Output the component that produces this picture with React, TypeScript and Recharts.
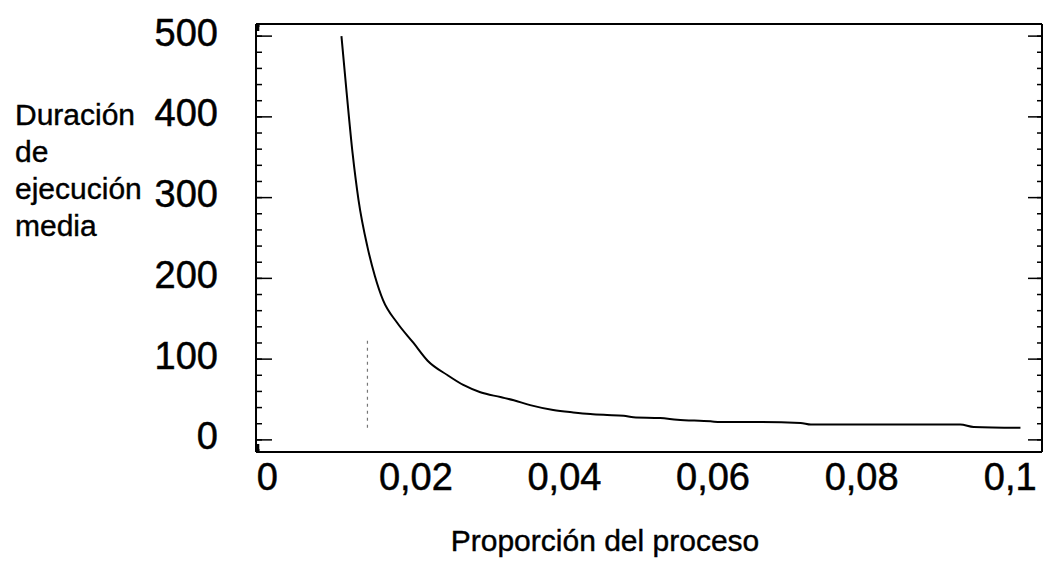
import React from "react";
import { LineChart, Line, XAxis, YAxis, ReferenceLine } from "recharts";

// proportion of the process (x) vs mean run time (y)
const proportion = [
  0.0085, 0.0092, 0.01, 0.0108, 0.012, 0.013, 0.0141, 0.016, 0.0182, 0.0201,
  0.0228, 0.0249, 0.0272, 0.0299, 0.0317, 0.0339, 0.037, 0.0397, 0.042, 0.0438,
  0.0465, 0.0478, 0.0514, 0.0537, 0.0582, 0.0595, 0.0649, 0.0703, 0.0717, 0.0918,
  0.0936, 0.0999,
];
const duration = [
  500, 430, 355, 297, 239, 203, 173, 145, 120, 98,
  80, 68, 59, 53, 49, 43, 37, 34, 32, 31,
  30, 28, 27, 25, 23, 22, 22, 21, 19, 19,
  16, 15,
];

const xMajor = [0, 0.02, 0.04, 0.06, 0.08, 0.1];
const xMinor = [
  0, 0.005, 0.01, 0.015, 0.02, 0.025, 0.03, 0.035, 0.04, 0.045, 0.05,
  0.055, 0.06, 0.065, 0.07, 0.075, 0.08, 0.085, 0.09, 0.095, 0.1,
];
const yMajor = [0, 100, 200, 300, 400, 500];
const yMinor = [
  0, 20, 40, 60, 80, 100, 120, 140, 160, 180, 200, 220, 240, 260, 280, 300,
  320, 340, 360, 380, 400, 420, 440, 460, 480, 500,
];

// faint dotted mark in the original scan
const markX = 0.012;
const markFrom = 15;
const markTo = 125;

const xDomain = [-0.003, 0.1028];
const yDomain = [-15, 515];

const data = proportion.map((p, i) => ({ p, d: duration[i] }));

const font = '"Liberation Sans", Arial, sans-serif';
const fmtX = (v: number) => String(v).replace(".", ",");
const blank = () => "";
const thin = 0.01; // axes take no room, but still get drawn

export default function App() {
  const tickBase = { fontSize: 38, fill: "#000", stroke: "#000", strokeWidth: 0.5, fontFamily: font };
  const noText = { fontSize: 1, fill: "none" };
  const tl = { stroke: "#000", strokeWidth: 1.5 };
  const frame = { stroke: "#000", strokeWidth: 2 };
  return (
    <div style={{ position: "absolute", left: 0, top: 0, width: 1052, height: 568, background: "#fff", fontFamily: font }}>
      <LineChart width={1052} height={568} data={data} margin={{ top: 24, right: 10, left: 256, bottom: 116 }}>
        <XAxis xAxisId="x" dataKey="p" type="number" domain={xDomain} allowDataOverflow ticks={xMajor}
          interval={0} height={thin} tickSize={0} tickMargin={11} tickLine={false}
          tickFormatter={fmtX} tick={{ ...tickBase, dx: -11 }} axisLine={frame} />
        <XAxis xAxisId="xb1" type="number" domain={xDomain} allowDataOverflow ticks={xMajor} interval={0}
          height={thin} mirror tick={noText} tickFormatter={blank} tickSize={8} axisLine={false} tickLine={tl} />
        <XAxis xAxisId="xb2" type="number" domain={xDomain} allowDataOverflow ticks={xMinor} interval={0}
          height={thin} mirror tick={noText} tickFormatter={blank} tickSize={3} axisLine={false} tickLine={tl} />
        <XAxis xAxisId="xt1" orientation="top" type="number" domain={xDomain} allowDataOverflow ticks={xMajor} interval={0}
          height={thin} mirror tick={noText} tickFormatter={blank} tickSize={7} axisLine={frame} tickLine={tl} />
        <XAxis xAxisId="xt2" orientation="top" type="number" domain={xDomain} allowDataOverflow ticks={xMinor} interval={0}
          height={thin} mirror tick={noText} tickFormatter={blank} tickSize={3} axisLine={false} tickLine={tl} />

        <YAxis yAxisId="y" type="number" domain={yDomain} allowDataOverflow ticks={yMajor} interval={0}
          width={thin} tickSize={0} tickMargin={38} tickLine={false} tick={{ ...tickBase, dy: -4 }} axisLine={frame} />
        <YAxis yAxisId="yl1" type="number" domain={yDomain} allowDataOverflow ticks={yMajor} interval={0}
          width={thin} mirror tick={noText} tickFormatter={blank} tickSize={16} axisLine={false} tickLine={tl} />
        <YAxis yAxisId="yl2" type="number" domain={yDomain} allowDataOverflow ticks={yMinor} interval={0}
          width={thin} mirror tick={noText} tickFormatter={blank} tickSize={6} axisLine={false} tickLine={tl} />
        <YAxis yAxisId="yr1" orientation="right" type="number" domain={yDomain} allowDataOverflow ticks={yMajor} interval={0}
          width={thin} mirror tick={noText} tickFormatter={blank} tickSize={14} axisLine={frame} tickLine={tl} />
        <YAxis yAxisId="yr2" orientation="right" type="number" domain={yDomain} allowDataOverflow ticks={yMinor} interval={0}
          width={thin} mirror tick={noText} tickFormatter={blank} tickSize={5} axisLine={false} tickLine={tl} />

        <ReferenceLine xAxisId="x" yAxisId="y" segment={[{ x: markX, y: markFrom }, { x: markX, y: markTo }]}
          stroke="#777" strokeWidth={1.2} strokeDasharray="3 4" />
        <Line xAxisId="x" yAxisId="y" type="monotone" dataKey="d" stroke="#000" strokeWidth={2}
          dot={false} isAnimationActive={false} />
      </LineChart>

      <div style={{ position: "absolute", left: 15, top: 96, fontSize: 30, lineHeight: "37px", color: "#000", WebkitTextStroke: "0.4px #000" }}>
        Duración<br />de<br />ejecución<br />media
      </div>
      <div style={{ position: "absolute", left: 0, top: 526, width: 1210, textAlign: "center", fontSize: 30, lineHeight: "30px", color: "#000", WebkitTextStroke: "0.4px #000" }}>
        Proporción del proceso
      </div>
    </div>
  );
}
